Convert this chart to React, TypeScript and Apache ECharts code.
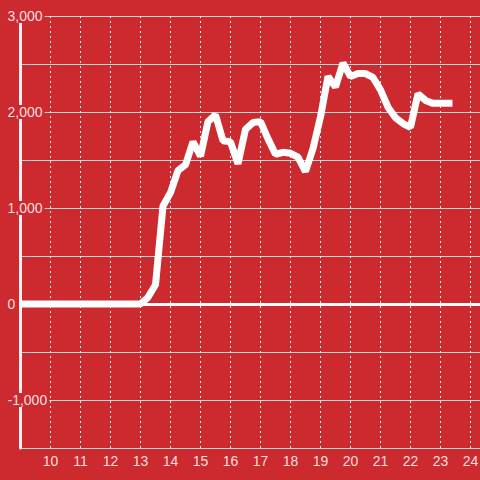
import React, { useEffect, useRef } from "react";
import * as echarts from "echarts";

const hours: number[] = [
  9, 13, 13.25, 13.5, 13.75, 14, 14.25, 14.5, 14.75, 15, 15.25, 15.5, 15.75, 16, 16.25, 16.5, 16.75,
  17, 17.25, 17.5, 17.75, 18, 18.25, 18.5, 18.75, 19, 19.25, 19.5, 19.75, 20, 20.25, 20.5, 20.75,
  21, 21.25, 21.5, 21.75, 22, 22.25, 22.5, 22.75, 23, 23.25, 23.4,
];
const values: number[] = [
  0, 0, 70, 200, 1020, 1160, 1390, 1450, 1690, 1540, 1900, 1970, 1700, 1690, 1460, 1820, 1890,
  1900, 1720, 1560, 1580, 1570, 1530, 1380, 1620, 1950, 2370, 2260, 2510, 2370, 2400, 2400, 2360,
  2230, 2050, 1940, 1880, 1840, 2190, 2120, 2090, 2090, 2090, 2090,
];
const xMin = 9;
const xMax = 25;
const yMin = -1500;
const yMax = 3000;

const BG = "#cc2a2f";
const LABEL = "rgba(255,255,255,0.86)";

export default function App() {
  const ref = useRef<HTMLDivElement>(null);
  useEffect(() => {
    if (!ref.current) return;
    const chart = echarts.init(ref.current, undefined, { renderer: "svg" });
    const data = hours.map((h, i) => [h, values[i]]);
    chart.setOption({
      animation: false,
      backgroundColor: BG,
      grid: {
        left: 20.5,
        width: 480,
        top: 16,
        bottom: 32,
        containLabel: false,
        outerBoundsMode: "none",
      },
      xAxis: {
        type: "value",
        min: xMin,
        max: xMax,
        interval: 1,
        axisLine: { onZero: false, show: false },
        axisTick: { show: false },
        axisLabel: {
          color: LABEL,
          fontFamily: "Liberation Sans",
          fontSize: 14,
          margin: 6,
          formatter: (v: number) => (v === xMin || v === xMax ? "" : String(v)),
        },
        splitLine: {
          show: true,
          lineStyle: { color: "#eeeeee", width: 1, type: [2, 3] },
        },
      },
      yAxis: {
        type: "value",
        min: yMin,
        max: yMax,
        interval: 500,
        axisLine: { show: true, lineStyle: { color: "#f2f2f2", width: 3 } },
        axisTick: { show: false },
        axisLabel: {
          color: LABEL,
          fontFamily: "Liberation Sans",
          fontSize: 14,
          align: "left",
          margin: 14,
          backgroundColor: BG,
          padding: [0, 2, 0, 1],
          formatter: (v: number) => (v % 1000 === 0 ? v.toLocaleString("en-US") : ""),
        },
        splitLine: {
          show: true,
          lineStyle: { color: "#d4d4d4", width: 1 },
        },
      },
      series: [
        {
          type: "line",
          data,
          symbol: "none",
          lineStyle: { color: "#ffffff", width: 7 },
          markLine: {
            silent: true,
            symbol: "none",
            label: { show: false },
            lineStyle: { color: "#ffffff", width: 3, type: "solid" },
            data: [{ yAxis: 0 }],
          },
        },
      ],
    });
    return () => chart.dispose();
  }, []);
  return (
    <div
      ref={ref}
      style={{ position: "fixed", left: 0, top: 0, width: 480, height: 480 }}
    />
  );
}
